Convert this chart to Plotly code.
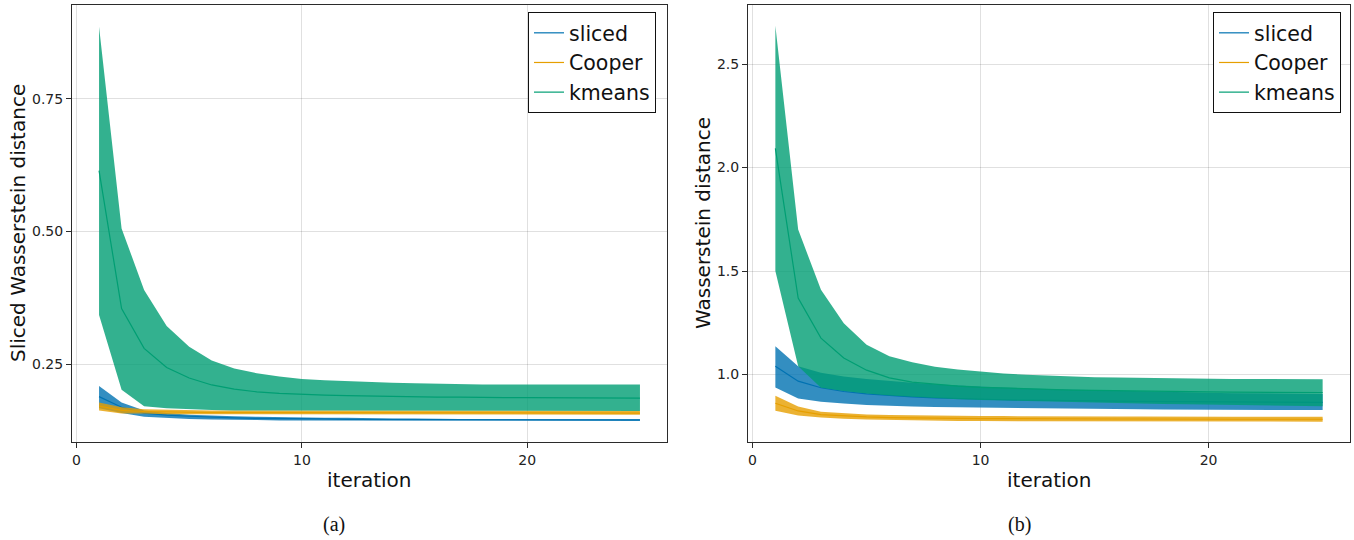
import plotly.graph_objects as go

iterations = list(range(1, 26))

# ---- panel (a): Sliced Wasserstein distance ----
sliced_mean_a = [0.189, 0.169, 0.158, 0.154, 0.152, 0.150, 0.149, 0.148, 0.148, 0.147, 0.147, 0.146, 0.146,
                 0.146, 0.146, 0.145, 0.145, 0.145, 0.145, 0.145, 0.145, 0.145, 0.145, 0.145, 0.145]
sliced_lo_a = [0.167, 0.158, 0.151, 0.149, 0.147, 0.146, 0.145, 0.145, 0.144, 0.144, 0.144, 0.144, 0.143,
               0.143, 0.143, 0.143, 0.143, 0.143, 0.143, 0.143, 0.143, 0.143, 0.143, 0.143, 0.143]
sliced_hi_a = [0.209, 0.178, 0.163, 0.158, 0.155, 0.153, 0.152, 0.151, 0.150, 0.150, 0.149, 0.149, 0.148,
               0.148, 0.148, 0.147, 0.147, 0.147, 0.147, 0.147, 0.147, 0.147, 0.147, 0.147, 0.147]

cooper_mean_a = [0.171, 0.163, 0.161, 0.160, 0.159, 0.159, 0.159, 0.159, 0.159, 0.159, 0.159, 0.159, 0.159,
                 0.159, 0.159, 0.158, 0.158, 0.158, 0.158, 0.158, 0.158, 0.158, 0.158, 0.158, 0.158]
cooper_lo_a = [0.163, 0.157, 0.157, 0.156, 0.156, 0.156, 0.156, 0.156, 0.155, 0.155, 0.155, 0.155, 0.155,
               0.155, 0.155, 0.155, 0.155, 0.155, 0.155, 0.155, 0.155, 0.155, 0.155, 0.155, 0.155]
cooper_hi_a = [0.178, 0.169, 0.165, 0.164, 0.163, 0.163, 0.163, 0.163, 0.163, 0.162, 0.162, 0.162, 0.162,
               0.162, 0.162, 0.162, 0.162, 0.162, 0.162, 0.162, 0.162, 0.162, 0.162, 0.162, 0.162]

kmeans_mean_a = [0.615, 0.355, 0.280, 0.244, 0.224, 0.211, 0.203, 0.198, 0.195, 0.193, 0.192, 0.191, 0.190,
                 0.189, 0.189, 0.188, 0.188, 0.187, 0.187, 0.187, 0.187, 0.186, 0.186, 0.186, 0.186]
kmeans_lo_a = [0.343, 0.202, 0.171, 0.167, 0.165, 0.164, 0.163, 0.163, 0.163, 0.162, 0.162, 0.162, 0.162,
               0.162, 0.162, 0.162, 0.162, 0.162, 0.162, 0.162, 0.162, 0.162, 0.162, 0.162, 0.162]
kmeans_hi_a = [0.886, 0.506, 0.390, 0.322, 0.283, 0.257, 0.242, 0.233, 0.227, 0.222, 0.220, 0.218, 0.216,
               0.215, 0.214, 0.213, 0.213, 0.212, 0.212, 0.212, 0.212, 0.212, 0.212, 0.212, 0.212]

# ---- panel (b): Wasserstein distance ----
sliced_mean_b = [1.040, 0.968, 0.936, 0.918, 0.906, 0.898, 0.892, 0.887, 0.883, 0.880, 0.878, 0.876, 0.874,
                 0.873, 0.872, 0.871, 0.870, 0.869, 0.868, 0.868, 0.867, 0.867, 0.866, 0.866, 0.865]
sliced_lo_b = [0.937, 0.884, 0.868, 0.860, 0.853, 0.849, 0.846, 0.843, 0.841, 0.839, 0.838, 0.837, 0.836,
               0.835, 0.834, 0.833, 0.832, 0.831, 0.831, 0.830, 0.830, 0.829, 0.829, 0.828, 0.828]
sliced_hi_b = [1.136, 1.040, 1.008, 0.990, 0.978, 0.968, 0.960, 0.953, 0.947, 0.942, 0.937, 0.933, 0.930,
               0.927, 0.924, 0.921, 0.918, 0.916, 0.914, 0.912, 0.910, 0.909, 0.908, 0.907, 0.906]

cooper_mean_b = [0.861, 0.824, 0.806, 0.799, 0.795, 0.792, 0.790, 0.789, 0.788, 0.787, 0.787, 0.786, 0.786,
                 0.785, 0.785, 0.785, 0.785, 0.784, 0.784, 0.784, 0.784, 0.784, 0.784, 0.784, 0.784]
cooper_lo_b = [0.825, 0.802, 0.792, 0.786, 0.783, 0.780, 0.778, 0.777, 0.776, 0.775, 0.775, 0.774, 0.774,
               0.773, 0.773, 0.773, 0.773, 0.772, 0.772, 0.772, 0.772, 0.772, 0.772, 0.772, 0.772]
cooper_hi_b = [0.897, 0.846, 0.820, 0.812, 0.807, 0.804, 0.802, 0.801, 0.800, 0.799, 0.799, 0.798, 0.798,
               0.797, 0.797, 0.797, 0.797, 0.796, 0.796, 0.796, 0.796, 0.796, 0.796, 0.796, 0.796]

kmeans_mean_b = [2.092, 1.369, 1.176, 1.080, 1.021, 0.984, 0.963, 0.952, 0.944, 0.938, 0.934, 0.931, 0.928,
                 0.925, 0.923, 0.921, 0.919, 0.918, 0.917, 0.916, 0.915, 0.914, 0.914, 0.913, 0.913]
kmeans_lo_b = [1.500, 1.040, 0.936, 0.920, 0.908, 0.899, 0.892, 0.886, 0.881, 0.877, 0.874, 0.871, 0.868,
               0.866, 0.864, 0.862, 0.860, 0.858, 0.856, 0.854, 0.852, 0.851, 0.849, 0.848, 0.847]
kmeans_hi_b = [2.685, 1.700, 1.409, 1.248, 1.144, 1.088, 1.059, 1.037, 1.024, 1.013, 1.005, 0.999, 0.994,
               0.990, 0.987, 0.985, 0.983, 0.981, 0.980, 0.979, 0.978, 0.978, 0.977, 0.977, 0.977]

series_names = ["sliced", "Cooper", "kmeans"]
line_colors = ["#0072B2", "#E69F00", "#009E73"]
band_colors = ["rgba(0,114,178,0.8)", "rgba(230,159,0,0.8)", "rgba(0,158,115,0.8)"]

panel_a = [(sliced_lo_a, sliced_mean_a, sliced_hi_a),
           (cooper_lo_a, cooper_mean_a, cooper_hi_a),
           (kmeans_lo_a, kmeans_mean_a, kmeans_hi_a)]
panel_b = [(sliced_lo_b, sliced_mean_b, sliced_hi_b),
           (cooper_lo_b, cooper_mean_b, cooper_hi_b),
           (kmeans_lo_b, kmeans_mean_b, kmeans_hi_b)]

FONT = "DejaVu Sans"
fig = go.Figure()

for panel, xa, ya, leg in [(panel_a, "x", "y", "legend"), (panel_b, "x2", "y2", "legend2")]:
    for (lo, mean, hi), name, lc, bc in zip(panel, series_names, line_colors, band_colors):
        fig.add_trace(go.Scatter(
            x=iterations + iterations[::-1], y=hi + lo[::-1],
            fill="toself", fillcolor=bc, line=dict(width=0), mode="lines",
            hoverinfo="skip", showlegend=False, xaxis=xa, yaxis=ya))
        fig.add_trace(go.Scatter(
            x=iterations, y=mean, mode="lines", name=name,
            line=dict(color=lc, width=1.2), xaxis=xa, yaxis=ya, legend=leg))

W, H = 1354, 540
top_px, bot_px = 5, 442
ydom = [1 - bot_px / H, 1 - top_px / H]

axis_common = dict(
    showline=True, linecolor="#2b2b2b", linewidth=1, mirror=True,
    showgrid=True, gridcolor="rgba(0,0,0,0.12)", gridwidth=1,
    zeroline=False, ticks="outside", ticklen=5, tickcolor="#2b2b2b",
    tickfont=dict(family=FONT, size=14, color="#222"),
)

legend_common = dict(xanchor="right", yanchor="top", bordercolor="#111", borderwidth=1,
                     bgcolor="white", font=dict(family=FONT, size=20.5), tracegroupgap=0,
                     itemwidth=30)

fig.update_layout(
    width=W, height=H,
    margin=dict(l=0, r=0, t=0, b=0),
    paper_bgcolor="white", plot_bgcolor="white",
    font=dict(family=FONT, color="#111"),
    xaxis=dict(domain=[72 / W, 667 / W], range=[-0.2, 26.2], tickvals=[0, 10, 20], anchor="y", **axis_common),
    yaxis=dict(domain=ydom, range=[0.1035, 0.927], tickvals=[0.25, 0.5, 0.75],
               ticktext=["0.25", "0.50", "0.75"], anchor="x", **axis_common),
    xaxis2=dict(domain=[748 / W, 1350 / W], range=[-0.2, 26.2], tickvals=[0, 10, 20], anchor="y2", **axis_common),
    yaxis2=dict(domain=ydom, range=[0.674, 2.785], tickvals=[1.0, 1.5, 2.0, 2.5],
                ticktext=["1.0", "1.5", "2.0", "2.5"], anchor="x2", **axis_common),
    legend=dict(x=656 / W, y=1 - 12 / H, **legend_common),
    legend2=dict(x=1341 / W, y=1 - 12 / H, **legend_common),
    showlegend=True,
)

annots = [
    dict(text="iteration", x=369 / W, y=1 - 480 / H, xref="paper", yref="paper",
         showarrow=False, font=dict(family=FONT, size=20), xanchor="center", yanchor="middle"),
    dict(text="iteration", x=1049 / W, y=1 - 480 / H, xref="paper", yref="paper",
         showarrow=False, font=dict(family=FONT, size=20), xanchor="center", yanchor="middle"),
    dict(text="Sliced Wasserstein distance", x=18 / W, y=1 - 223 / H, xref="paper", yref="paper",
         showarrow=False, textangle=-90, font=dict(family=FONT, size=20), xanchor="center", yanchor="middle"),
    dict(text="Wasserstein distance", x=703 / W, y=1 - 223 / H, xref="paper", yref="paper",
         showarrow=False, textangle=-90, font=dict(family=FONT, size=20), xanchor="center", yanchor="middle"),
    dict(text="(a)", x=334 / W, y=1 - 524 / H, xref="paper", yref="paper",
         showarrow=False, font=dict(family="Liberation Serif", size=20), xanchor="center", yanchor="middle"),
    dict(text="(b)", x=1020 / W, y=1 - 524 / H, xref="paper", yref="paper",
         showarrow=False, font=dict(family="Liberation Serif", size=20), xanchor="center", yanchor="middle"),
]
fig.update_layout(annotations=annots)

fig.write_html("out.html", config={"displayModeBar": False},
               post_script="document.body.style.margin='0';document.body.style.overflow='hidden';")
